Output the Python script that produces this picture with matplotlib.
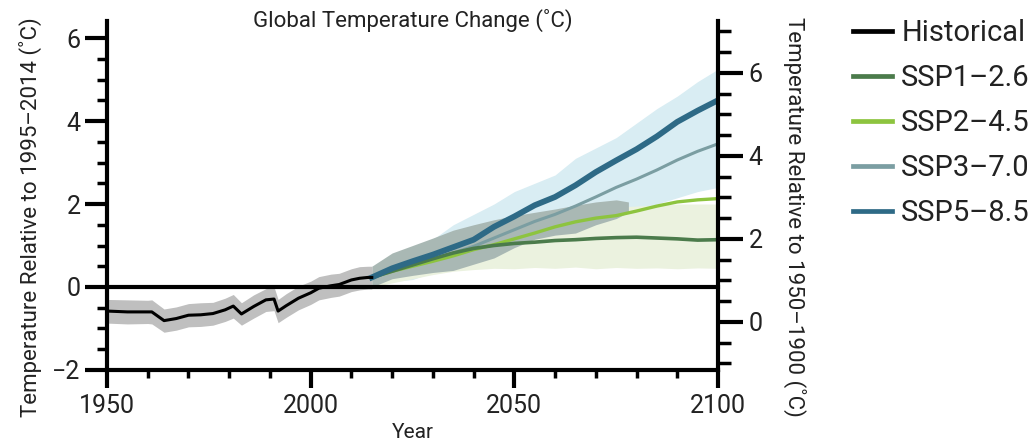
import matplotlib as mpl
import matplotlib.pyplot as plt
from matplotlib.ticker import MultipleLocator
import numpy as np

mpl.rcParams['font.family'] = ['Roboto', 'DejaVu Sans']

# historical record (relative to 1995-2014)
hist_years = [1950, 1955, 1960, 1961, 1964, 1967, 1970, 1973, 1976, 1979, 1981, 1983,
              1986, 1989, 1991, 1992, 1994, 1997, 2000, 2002, 2005, 2007, 2010, 2012, 2014, 2015]
hist_mean = [-0.58, -0.60, -0.60, -0.60, -0.81, -0.76, -0.68, -0.67, -0.64, -0.55, -0.46, -0.65,
             -0.47, -0.31, -0.29, -0.58, -0.45, -0.27, -0.14, -0.03, 0.03, 0.06, 0.17, 0.21, 0.23, 0.23]
hist_hi = [-0.30, -0.31, -0.32, -0.31, -0.53, -0.48, -0.40, -0.38, -0.37, -0.27, -0.18, -0.38,
           -0.19, -0.04, 0.00, -0.30, -0.16, 0.02, 0.14, 0.25, 0.31, 0.33, 0.44, 0.49, 0.50, 0.50]
hist_lo = [-0.87, -0.89, -0.88, -0.89, -1.09, -1.04, -0.96, -0.95, -0.92, -0.83, -0.75, -0.92,
           -0.75, -0.59, -0.57, -0.86, -0.73, -0.55, -0.42, -0.31, -0.25, -0.22, -0.11, -0.07, -0.05, -0.05]

# projections, 5-year steps
proj_years = [2015, 2020, 2025, 2030, 2035, 2040, 2045, 2050, 2055, 2060,
              2065, 2070, 2075, 2080, 2085, 2090, 2095, 2100]
ssp126 = [0.23, 0.38, 0.53, 0.68, 0.82, 0.93, 1.00, 1.05, 1.08, 1.12,
          1.14, 1.17, 1.19, 1.20, 1.18, 1.16, 1.13, 1.14]
ssp245 = [0.23, 0.38, 0.50, 0.62, 0.75, 0.90, 1.02, 1.16, 1.30, 1.45,
          1.57, 1.66, 1.72, 1.83, 1.95, 2.05, 2.10, 2.13]
ssp370 = [0.23, 0.40, 0.55, 0.68, 0.82, 0.98, 1.18, 1.38, 1.58, 1.75,
          1.95, 2.17, 2.40, 2.60, 2.82, 3.06, 3.27, 3.45]
ssp585 = [0.23, 0.45, 0.62, 0.78, 0.96, 1.14, 1.45, 1.70, 1.97, 2.17,
          2.45, 2.77, 3.05, 3.32, 3.63, 3.98, 4.25, 4.50]

# ranges
hi_range_up = [0.35, 0.60, 0.85, 1.15, 1.50, 1.75, 2.00, 2.30, 2.50, 2.70,
               3.10, 3.35, 3.60, 3.95, 4.30, 4.60, 4.95, 5.25]
hi_range_lo = [0.15, 0.13, 0.18, 0.35, 0.50, 0.65, 0.80, 0.95, 1.10, 1.25,
               1.40, 1.55, 1.70, 1.85, 2.00, 2.15, 2.30, 2.40]
lo_range_up = [0.40, 0.60, 0.80, 0.95, 1.15, 1.30, 1.45, 1.60, 1.70, 1.80,
               1.85, 1.90, 1.93, 1.95, 1.98, 2.00, 2.00, 2.00]
lo_range_lo = [0.00, 0.10, 0.20, 0.30, 0.38, 0.42, 0.45, 0.44, 0.47, 0.45,
               0.48, 0.44, 0.47, 0.45, 0.46, 0.44, 0.46, 0.45]

mid_years = [2015, 2020, 2025, 2030, 2035, 2040, 2045, 2050, 2055, 2060, 2065, 2070, 2075, 2078]
mid_up = [0.50, 0.82, 1.00, 1.18, 1.37, 1.50, 1.62, 1.72, 1.80, 1.88, 1.97, 2.05, 2.10, 2.05]
mid_lo = [0.00, 0.20, 0.28, 0.35, 0.40, 0.55, 0.70, 0.95, 1.15, 1.25, 1.30, 1.50, 1.65, 1.80]

offset = 0.843  # 1995-2014 vs 1850-1900 baseline

c_hist = 'black'
c126 = '#4b7b4b'
c245 = '#8dc43f'
c370 = '#7b9ea2'
c585 = '#2e6a86'
txt = '#222222'

fig = plt.figure(figsize=(10.34, 4.43), dpi=100)
ax = fig.add_axes([0.1035, 0.1648, 0.5909, 0.7878])

ax.fill_between(proj_years, hi_range_lo, hi_range_up, color='#d9edf3', lw=0, zorder=1)
ax.fill_between(proj_years, lo_range_lo, lo_range_up, color='#ebf2df', lw=0, zorder=1.1)
ax.fill_between(mid_years, mid_lo, mid_up, color='#a9b8b4', lw=0, zorder=1.2)
ax.fill_between(hist_years, hist_lo, hist_hi, color='#bfbfbf', lw=0, zorder=1.3)

ax.plot(proj_years, ssp370, color=c370, lw=2.2, zorder=3)
ax.plot(proj_years, ssp245, color=c245, lw=2.4, zorder=3.1)
ax.plot(proj_years, ssp126, color=c126, lw=2.6, zorder=3.2)
ax.plot(proj_years, ssp585, color=c585, lw=4.2, zorder=3.3)
ax.plot(hist_years, hist_mean, color=c_hist, lw=2.2, zorder=3.4)

ax.axhline(0, color='black', lw=3, zorder=4, clip_on=False)

ax.set_xlim(1950, 2100)
ax.set_ylim(-2, 6.41)
ax.xaxis.set_major_locator(MultipleLocator(50))
ax.xaxis.set_minor_locator(MultipleLocator(10))
ax.yaxis.set_major_locator(MultipleLocator(2))
ax.yaxis.set_minor_locator(MultipleLocator(0.5))

for s in ['top', 'right']:
    ax.spines[s].set_visible(False)
for s in ['left', 'bottom']:
    ax.spines[s].set_linewidth(3)

ax.tick_params(axis='x', which='major', length=13, width=3, labelsize=18, pad=4, labelcolor=txt)
ax.tick_params(axis='x', which='minor', length=5.5, width=2.5)
ax.tick_params(axis='y', which='major', length=16, width=3, labelsize=18, pad=3, labelcolor=txt)
ax.tick_params(axis='y', which='minor', length=7, width=2.5)
ax.set_yticklabels(['\u22122' if v < 0 else f'{v:g}' for v in ax.get_yticks()])

ax2 = ax.twinx()
ax2.set_ylim(-2 + offset, 6.41 + offset)
ax2.yaxis.set_major_locator(MultipleLocator(2))
ax2.yaxis.set_minor_locator(MultipleLocator(0.5))
for s in ['top', 'left', 'bottom']:
    ax2.spines[s].set_visible(False)
ax2.spines['right'].set_linewidth(3)
ax2.tick_params(axis='y', which='major', length=18, width=3, labelsize=18, pad=4, labelcolor=txt)
ax2.tick_params(axis='y', which='minor', length=9, width=2.5)

# titles and axis labels
fig.text(413 / 1034, 1 - 20 / 443, 'Global Temperature Change (\u02daC)',
         fontsize=16, ha='center', va='center', color=txt)
fig.text(413 / 1034, 1 - 433 / 443, 'Year', fontsize=15, ha='center', va='center', color=txt)
fig.text(30 / 1034, 1 - 217 / 443, 'Temperature Relative to 1995\u20132014 (\u02daC)',
         fontsize=16, rotation=90, ha='center', va='center', color=txt)
fig.text(795 / 1034, 1 - 217 / 443, 'Temperature Relative to 1950\u20131900 (\u02daC)',
         fontsize=16, rotation=270, ha='center', va='center', color=txt)

handles = [
    plt.Line2D([], [], color=c_hist, lw=3.4),
    plt.Line2D([], [], color=c126, lw=3.4),
    plt.Line2D([], [], color=c245, lw=3.4),
    plt.Line2D([], [], color=c370, lw=3.4),
    plt.Line2D([], [], color=c585, lw=3.4),
]
labels = ['Historical', 'SSP1\u20132.6', 'SSP2\u20134.5', 'SSP3\u20137.0', 'SSP5\u20138.5']
fig.legend(handles, labels, loc='upper left', bbox_to_anchor=(0.825, 0.957),
           frameon=False, fontsize=21, handlelength=1.35, handletextpad=0.3,
           labelspacing=0.58, borderpad=0, borderaxespad=0, labelcolor=txt)

fig.savefig('out.png', dpi=100)
